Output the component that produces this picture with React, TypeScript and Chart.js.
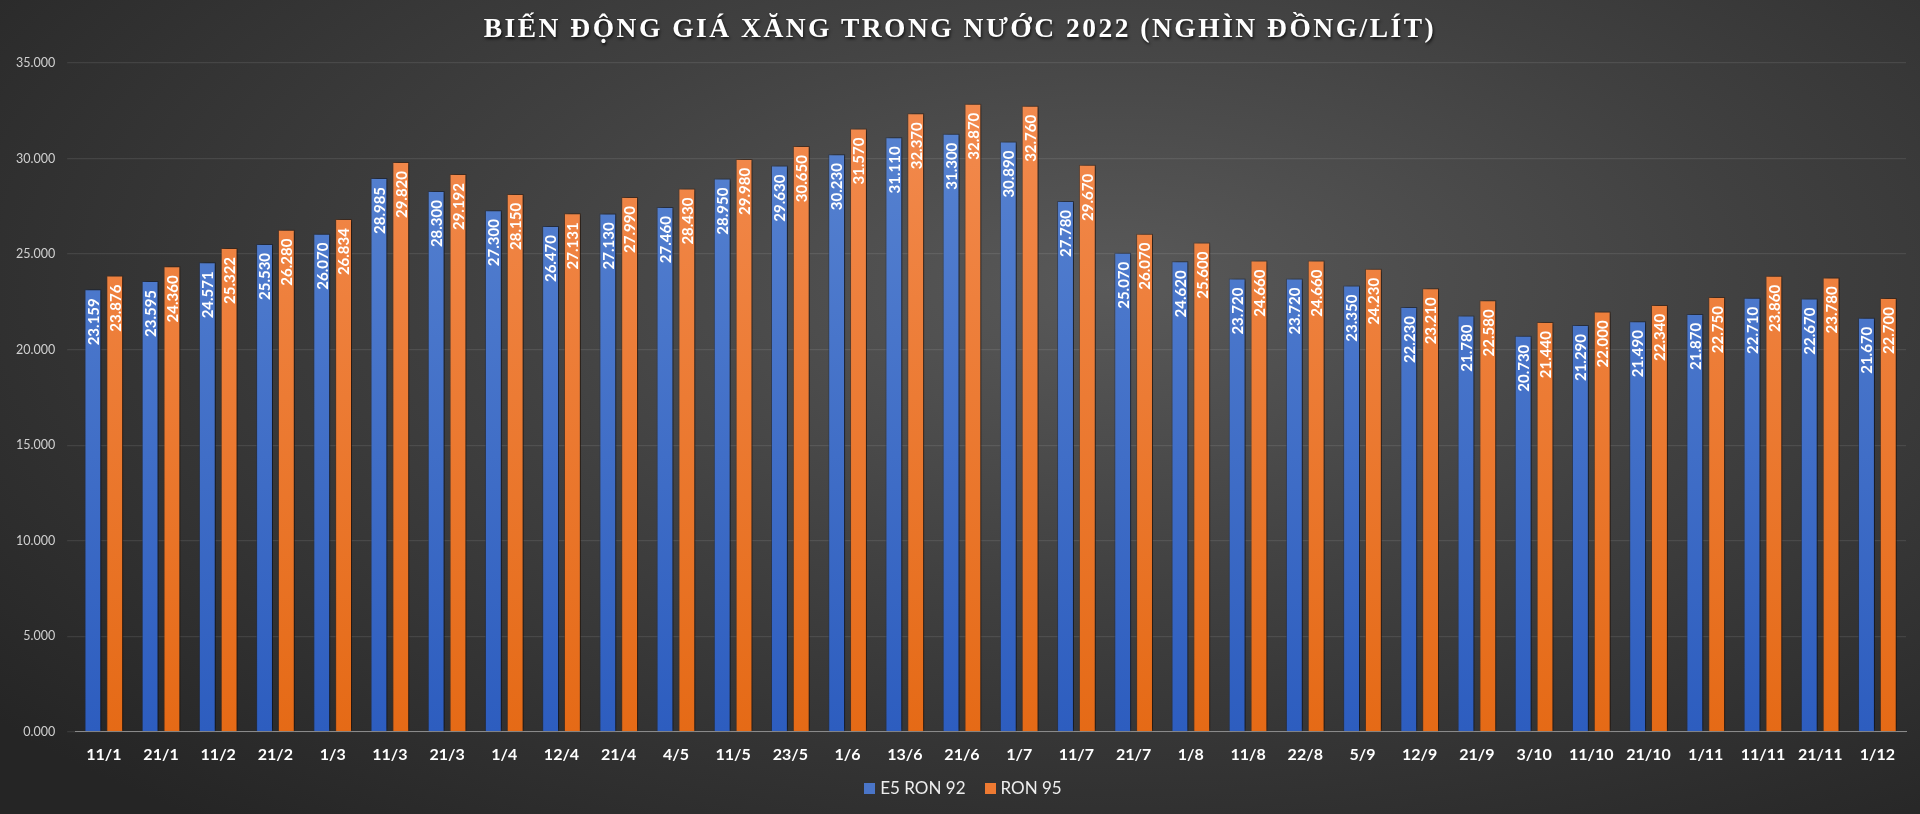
import { useEffect, useRef } from 'react';
import { Chart, registerables } from 'chart.js';

Chart.register(...registerables);

const dates = [
  '11/1', '21/1', '11/2', '21/2', '1/3', '11/3', '21/3', '1/4', '12/4', '21/4', '4/5',
  '11/5', '23/5', '1/6', '13/6', '21/6', '1/7', '11/7', '21/7', '1/8', '11/8', '22/8',
  '5/9', '12/9', '21/9', '3/10', '11/10', '21/10', '1/11', '11/11', '21/11', '1/12',
];

const e5Ron92 = [
  23159, 23595, 24571, 25530, 26070, 28985, 28300, 27300, 26470, 27130, 27460,
  28950, 29630, 30230, 31110, 31300, 30890, 27780, 25070, 24620, 23720, 23720,
  23350, 22230, 21780, 20730, 21290, 21490, 21870, 22710, 22670, 21670,
];

const ron95 = [
  23876, 24360, 25322, 26280, 26834, 29820, 29192, 28150, 27131, 27990, 28430,
  29980, 30650, 31570, 32370, 32870, 32760, 29670, 26070, 25600, 24660, 24660,
  24230, 23210, 22580, 21440, 22000, 22340, 22750, 23860, 23780, 22700,
];

const seriesNames = ['E5 RON 92', 'RON 95'];
const seriesColors = ['#4a75c8', '#ee7a32'];

const TITLE = 'BIẾN ĐỘNG GIÁ XĂNG TRONG NƯỚC 2022 (NGHÌN ĐỒNG/LÍT)';
const FONT = 'Lato, "Open Sans", sans-serif';

// 23159 -> "23.159"
const fmt = (v: number) => {
  const s = String(Math.round(v));
  return s.replace(/\B(?=(\d{3})+(?!\d))/g, '.');
};
const fmtTick = (v: number) => (v === 0 ? '0.000' : fmt(v));

function barGradient(chart: Chart, top: string, bottom: string) {
  const area = chart.chartArea;
  if (!area) return top;
  const g = chart.ctx.createLinearGradient(0, area.top, 0, area.bottom);
  g.addColorStop(0, top);
  g.addColorStop(1, bottom);
  return g;
}

// soft drop shadow behind the bars, then rotated value labels inside the top of each bar
const barDecor = {
  id: 'barDecor',
  beforeDatasetsDraw(chart: Chart) {
    const ctx = chart.ctx;
    ctx.save();
    ctx.shadowColor = 'rgba(0,0,0,0.55)';
    ctx.shadowOffsetX = 3;
    ctx.shadowOffsetY = 0;
    ctx.shadowBlur = 4;
  },
  afterDatasetsDraw(chart: Chart) {
    const ctx = chart.ctx;
    ctx.restore();
    ctx.save();
    ctx.font = `bold 15px ${FONT}`;
    ctx.fillStyle = '#ffffff';
    ctx.textAlign = 'right';
    ctx.textBaseline = 'middle';
    chart.data.datasets.forEach((ds, i) => {
      const meta = chart.getDatasetMeta(i);
      meta.data.forEach((bar: any, j) => {
        const v = ds.data[j] as number;
        ctx.save();
        ctx.translate(bar.x, bar.y + 9);
        ctx.rotate(-Math.PI / 2);
        ctx.fillText(fmt(v), 0, 1);
        ctx.restore();
      });
    });
    ctx.restore();
  },
};

function PriceChart() {
  const canvasRef = useRef<HTMLCanvasElement>(null);

  useEffect(() => {
    if (!canvasRef.current) return;
    const chart = new Chart(canvasRef.current, {
      type: 'bar',
      data: {
        labels: dates,
        datasets: [
          {
            label: seriesNames[0],
            data: e5Ron92,
            backgroundColor: (c: any) => barGradient(c.chart, '#5b86d2', '#2d5dbf'),
            borderColor: 'rgba(30,50,90,0.5)',
            borderWidth: 1,
          },
          {
            label: seriesNames[1],
            data: ron95,
            backgroundColor: (c: any) => barGradient(c.chart, '#f38c52', '#e56a16'),
            borderColor: 'rgba(100,50,20,0.5)',
            borderWidth: 1,
          },
        ],
      },
      options: {
        animation: false,
        responsive: true,
        maintainAspectRatio: false,
        datasets: {
          bar: {
            categoryPercentage: 0.763,
            barPercentage: 0.773,
          },
        },
        layout: { padding: { top: 63, left: 4, right: 14, bottom: 37 } },
        plugins: {
          legend: { display: false },
          tooltip: { enabled: false },
        },
        scales: {
          x: {
            grid: { display: false, drawTicks: false },
            border: { color: '#8a8a8a', width: 1 },
            ticks: {
              color: '#ffffff',
              font: { family: FONT, size: 16, weight: 'bold' },
              padding: 13,
              maxRotation: 0,
              autoSkip: false,
            },
          },
          y: {
            min: 0,
            max: 35000,
            border: { display: false },
            grid: { color: 'rgba(255,255,255,0.09)', lineWidth: 1.3 },
            ticks: {
              stepSize: 5000,
              color: '#d0d0d0',
              font: { family: FONT, size: 12.5 },
              padding: 12,
              callback: (v: any) => fmtTick(Number(v)),
            },
          },
        },
      },
      plugins: [barDecor],
    });
    return () => chart.destroy();
  }, []);

  return <canvas ref={canvasRef} />;
}

function Legend() {
  return (
    <div
      style={{
        position: 'absolute',
        left: 0,
        top: 777,
        width: 1926,
        display: 'flex',
        justifyContent: 'center',
        gap: 19,
        fontFamily: FONT,
        fontSize: 17,
        color: '#eeeeee',
        lineHeight: '22px',
      }}
    >
      {seriesNames.map((name, i) => (
        <div key={name} style={{ display: 'flex', alignItems: 'center', gap: 5 }}>
          <span style={{ width: 11, height: 11, background: seriesColors[i], display: 'inline-block' }} />
          <span>{name}</span>
        </div>
      ))}
    </div>
  );
}

export default function App() {
  return (
    <div
      style={{
        position: 'fixed',
        left: 0,
        top: 0,
        width: 1920,
        height: 814,
        background:
          'radial-gradient(ellipse 75% 85% at 58% 35%, #595959 0%, #404040 45%, #252525 100%)',
      }}
    >
      <div
        style={{
          position: 'absolute',
          left: 0,
          top: 12,
          width: '100%',
          textAlign: 'center',
          fontFamily: '"Liberation Serif", "Times New Roman", serif',
          fontWeight: 'bold',
          fontSize: 27.5,
          letterSpacing: 2.5,
          color: '#ffffff',
          textShadow: '1px 2px 3px rgba(0,0,0,0.7)',
        }}
      >
        {TITLE}
      </div>
      <div style={{ position: 'absolute', left: 0, top: 0, width: 1920, height: 814 }}>
        <PriceChart />
      </div>
      <Legend />
    </div>
  );
}
